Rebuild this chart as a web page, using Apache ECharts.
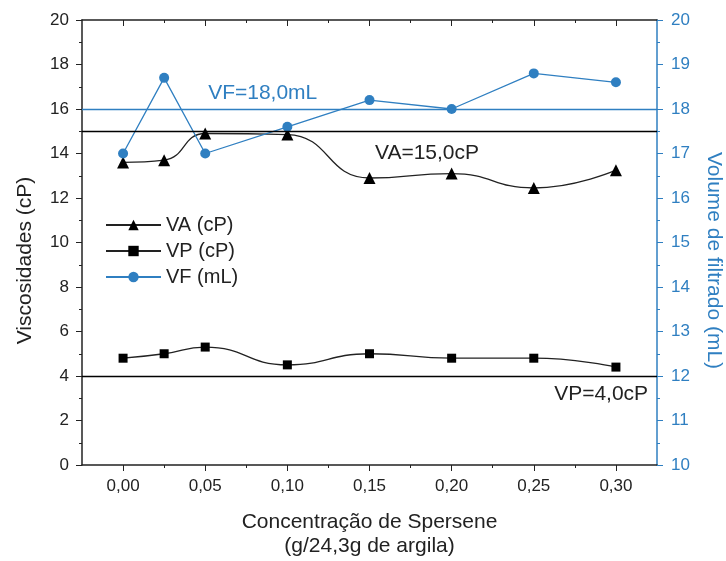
<!DOCTYPE html>
<html>
<head>
<meta charset="utf-8">
<script src="https://cdn.jsdelivr.net/npm/echarts@6/dist/echarts.min.js"></script>
<style>
  html, body { margin: 0; padding: 0; background: #fff; }
  #chart { width: 726px; height: 561px; }
</style>
</head>
<body>
<div id="chart"></div>
<script>
// concentração (g/24,3g de argila)
const conc = [0, 0.025, 0.05, 0.10, 0.15, 0.20, 0.25, 0.30]
const vaValues = [13.6, 13.7, 14.9, 14.85, 12.9, 13.1, 12.45, 13.25]
const vpValues = [4.8, 5.0, 5.3, 4.5, 5.0, 4.8, 4.8, 4.4]
const vfValues = [17.0, 18.7, 17.0, 17.6, 18.2, 18.0, 18.8, 18.6]
const majorTicks = [0, 0.05, 0.10, 0.15, 0.20, 0.25, 0.30]
const minorTicks = [0.025, 0.075, 0.125, 0.175, 0.225, 0.275]
const refVA = 15.0
const refVP = 4.0
const refVF = 18.0

const blue = '#2f7fc1'
const ink = '#222'
const font = 'Liberation Sans'

const pairs = vals => conc.map((x, i) => [x, vals[i]])
const fmtX = v => v.toFixed(2).replace('.', ',')

const xBase = {
  type: 'value',
  min: -0.025,
  max: 0.325,
  splitLine: { show: false },
  axisLine: { onZero: false, lineStyle: { color: ink, width: 1.5 } }
}

let chart = echarts.init(document.getElementById('chart'))
chart.setOption({
  animation: false,
  textStyle: { fontFamily: font },
  grid: { left: 82, right: 69, top: 20, bottom: 96, containLabel: false, outerBoundsMode: 'none' },
  legend: {
    orient: 'vertical',
    left: 100,
    top: 210,
    itemWidth: 55,
    itemHeight: 13,
    itemGap: 6,
    textStyle: { fontSize: 20, color: ink, fontFamily: font },
    data: ['VA (cP)', 'VP (cP)', 'VF (mL)']
  },
  xAxis: [
    Object.assign({}, xBase, {
      position: 'bottom',
      name: 'Concentração de Spersene\n(g/24,3g de argila)',
      nameLocation: 'middle',
      nameGap: 45,
      nameTextStyle: { fontSize: 21, color: ink, lineHeight: 24 },
      axisTick: { customValues: majorTicks, length: 6, lineStyle: { color: ink } },
      axisLabel: { customValues: majorTicks, formatter: fmtX, fontSize: 17, color: ink, margin: 13 }
    }),
    Object.assign({}, xBase, {
      position: 'bottom',
      axisLine: { show: false, onZero: false },
      axisTick: { customValues: minorTicks, length: 3, lineStyle: { color: ink } },
      axisLabel: { show: false }
    }),
    Object.assign({}, xBase, {
      position: 'top',
      axisTick: { customValues: majorTicks, length: 6, inside: true, lineStyle: { color: ink } },
      axisLabel: { show: false }
    }),
    Object.assign({}, xBase, {
      position: 'top',
      axisLine: { show: false, onZero: false },
      axisTick: { customValues: minorTicks, length: 3, inside: true, lineStyle: { color: ink } },
      axisLabel: { show: false }
    })
  ],
  yAxis: [
    {
      type: 'value',
      min: 0,
      max: 20,
      interval: 2,
      position: 'left',
      name: 'Viscosidades (cP)',
      nameLocation: 'middle',
      nameGap: 46,
      nameTextStyle: { fontSize: 21, color: ink, padding: [0, 36, 0, 0] },
      splitLine: { show: false },
      axisLine: { show: true, onZero: false, lineStyle: { color: ink, width: 1.5 } },
      axisTick: { show: true, length: 6, lineStyle: { color: ink } },
      minorTick: { show: true, splitNumber: 2, length: 3, lineStyle: { color: ink } },
      axisLabel: { fontSize: 17, color: ink, margin: 13 }
    },
    {
      type: 'value',
      min: 10,
      max: 20,
      interval: 1,
      position: 'right',
      name: 'Volume de filtrado (mL)',
      nameLocation: 'middle',
      nameGap: 46,
      nameRotate: -90,
      nameTextStyle: { fontSize: 21, color: blue, padding: [0, 0, 0, 36] },
      splitLine: { show: false },
      axisLine: { show: true, onZero: false, lineStyle: { color: blue, width: 1.5 } },
      axisTick: { show: true, length: 6, lineStyle: { color: blue } },
      minorTick: { show: true, splitNumber: 2, length: 3, lineStyle: { color: blue } },
      axisLabel: { fontSize: 17, color: blue, margin: 14 }
    }
  ],
  series: [
    {
      name: 'VA (cP)',
      type: 'line',
      smooth: 0.5,
      data: pairs(vaValues),
      symbol: 'triangle',
      symbolSize: 12,
      itemStyle: { color: '#000' },
      lineStyle: { color: ink, width: 1.3 },
      markLine: {
        silent: true,
        symbol: 'none',
        label: { show: false },
        lineStyle: { color: '#000', type: 'solid', width: 1.3 },
        data: [{ yAxis: refVA }]
      },
      markPoint: {
        symbol: 'circle',
        symbolSize: 0,
        label: { show: true, formatter: 'VA=15,0cP', fontSize: 21, color: ink },
        data: [{ coord: [0.185, 14.0] }]
      }
    },
    {
      name: 'VP (cP)',
      type: 'line',
      smooth: 0.5,
      data: pairs(vpValues),
      symbol: 'rect',
      symbolSize: 9,
      itemStyle: { color: '#000' },
      lineStyle: { color: ink, width: 1.3 },
      markLine: {
        silent: true,
        symbol: 'none',
        label: { show: false },
        lineStyle: { color: '#000', type: 'solid', width: 1.3 },
        data: [{ yAxis: refVP }]
      },
      markPoint: {
        symbol: 'circle',
        symbolSize: 0,
        label: { show: true, formatter: 'VP=4,0cP', fontSize: 21, color: ink },
        data: [{ coord: [0.291, 3.2] }]
      }
    },
    {
      name: 'VF (mL)',
      type: 'line',
      yAxisIndex: 1,
      data: pairs(vfValues),
      symbol: 'circle',
      symbolSize: 10,
      itemStyle: { color: blue },
      lineStyle: { color: blue, width: 1.3 },
      markLine: {
        silent: true,
        symbol: 'none',
        label: { show: false },
        lineStyle: { color: blue, type: 'solid', width: 1.3 },
        data: [{ yAxis: refVF }]
      },
      markPoint: {
        symbol: 'circle',
        symbolSize: 0,
        label: { show: true, formatter: 'VF=18,0mL', fontSize: 21, color: blue },
        data: [{ coord: [0.085, 18.36] }]
      }
    }
  ]
})
</script>
</body>
</html>
